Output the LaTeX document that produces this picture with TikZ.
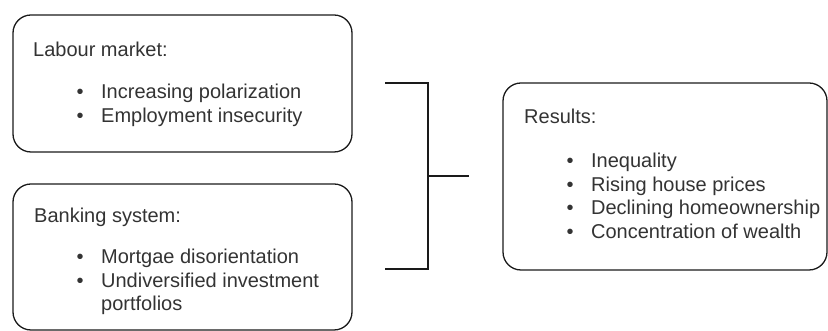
\documentclass[tikz,border=0pt]{standalone}
\usepackage{fontspec}
\setmainfont{Liberation Sans}
\definecolor{boxline}{HTML}{1A1A1A}
\definecolor{boxtext}{HTML}{333333}

\begin{document}
\begin{tikzpicture}[x=1pt,y=1pt,
    panel/.style={draw=boxline, line width=1.3pt, rounded corners=18pt, inner sep=0pt},
    heading/.style={anchor=base west, inner sep=0pt, text=boxtext, font=\fontsize{20}{23.4}\selectfont},
    items/.style={anchor=base west, inner sep=0pt, text=boxtext, font=\fontsize{20}{23.4}\selectfont},
    bracket/.style={draw=boxline, line width=2.6pt}]
    \useasboundingbox (0,0) rectangle (828,331);

    % Causes
    \node[panel, minimum width=339pt, minimum height=137pt] (labour) at (182.5,247.5) {};
    \node[panel, minimum width=339pt, minimum height=146pt] (banking) at (182.5,74) {};

    \node[heading] (labourhead) at (33,274.5) {Labour market:};
    \node[items] (labourlist) at (76.5,232) {\begin{tabular}[t]{@{}p{24.5pt}@{}l@{}}
        \textbullet & Increasing polarization\\
        \textbullet & Employment insecurity
    \end{tabular}};

    \node[heading] (bankinghead) at (34,108) {Banking system:};
    \node[items] (bankinglist) at (76.5,67) {\begin{tabular}[t]{@{}p{24.5pt}@{}l@{}}
        \textbullet & Mortgae disorientation\\
        \textbullet & Undiversified investment\\
                    & portfolios
    \end{tabular}};

    % Outcome
    \node[panel, minimum width=324pt, minimum height=187pt] (results) at (665,154.5) {};
    \node[heading] (resultshead) at (524,207) {Results:};
    \node[items] (resultslist) at (566.5,163) {\begin{tabular}[t]{@{}p{24.5pt}@{}l@{}}
        \textbullet & Inequality\\
        \textbullet & Rising house prices\\
        \textbullet & Declining homeownership\\
        \textbullet & Concentration of wealth
    \end{tabular}};

    % Bracket joining the two causes
    \coordinate (capTop) at (385,248);
    \coordinate (capBot) at (385,62);
    \coordinate (joint) at (428,155);
    \coordinate (jointEnd) at (469,155);
    \draw[bracket] (capTop) -| (joint) |- (capBot);
    \draw[bracket] (joint) -- (jointEnd);
\end{tikzpicture}
\end{document}
